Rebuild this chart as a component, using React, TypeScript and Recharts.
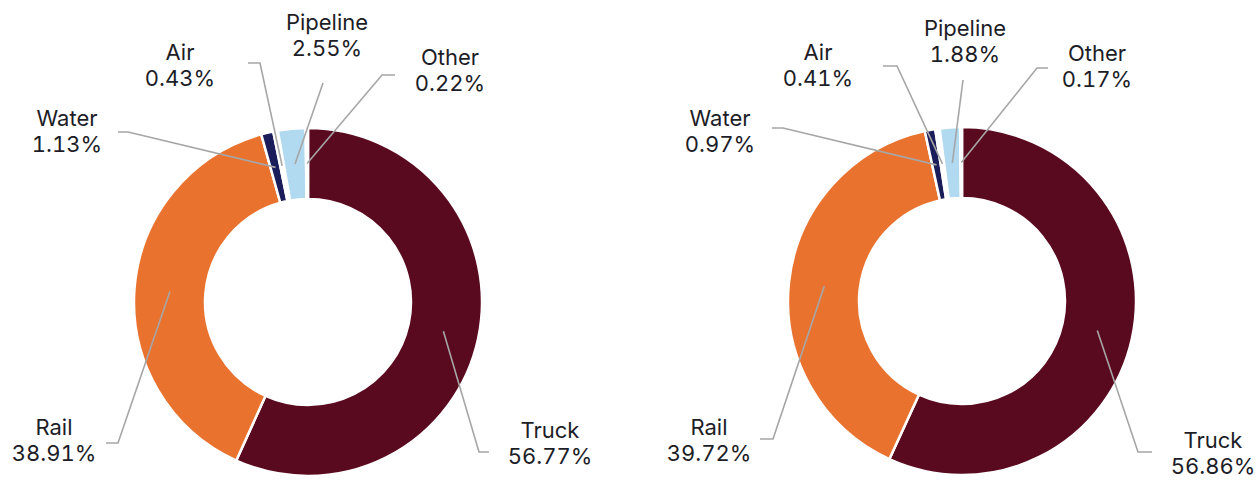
import { Pie, PieChart, Cell } from "recharts";

const categories = ["Truck", "Rail", "Water", "Air", "Pipeline", "Other"];
const leftShares = [56.77, 38.91, 1.13, 0.43, 2.55, 0.22];
const rightShares = [56.86, 39.72, 0.97, 0.41, 1.88, 0.17];

const colors: Record<string, string> = {
  Truck: "#5a0a1f",
  Rail: "#e9722f",
  Water: "#1b1c5a",
  Air: "#ffffff",
  Pipeline: "#b1daf1",
  Other: "#ffffff",
};

const leftData = categories.map((name, i) => ({ name, value: leftShares[i] }));
const rightData = categories.map((name, i) => ({ name, value: rightShares[i] }));

type Spot = { ex: number; ey: number; hx: number; tx: number; ty: number };

// leader line elbow / end and label position, relative to each donut's centre
const leftLayout: Record<string, Spot> = {
  Truck: { ex: 171, ey: 150, hx: 181, tx: 242, ty: 128 },
  Rail: { ex: -190, ey: 141, hx: -202, tx: -254, ty: 125 },
  Water: { ex: -180, ey: -170, hx: -190, tx: -241, ty: -184 },
  Air: { ex: -48, ey: -239, hx: -60, tx: -128, ty: -250 },
  Pipeline: { ex: 15, ey: -219, hx: 15, tx: 19, ty: -280 },
  Other: { ex: 74, ey: -227, hx: 87, tx: 142, ty: -245 },
};

const rightLayout: Record<string, Spot> = {
  Truck: { ex: 176, ey: 151, hx: 190, tx: 251, ty: 139 },
  Rail: { ex: -189, ey: 138, hx: -202, tx: -253, ty: 126 },
  Water: { ex: -179, ey: -173, hx: -190, tx: -242, ty: -183 },
  Air: { ex: -65, ey: -235, hx: -79, tx: -144, ty: -249 },
  Pipeline: { ex: 1, ey: -221, hx: 1, tx: 3, ty: -273 },
  Other: { ex: 75, ey: -233, hx: 86, tx: 135, ty: -248 },
};

const RAD = Math.PI / 180;
const textStyle = {
  fontFamily: "Inter, 'Noto Sans', sans-serif",
  fontSize: 22,
  fill: "#1d1d27",
  style: { fontVariantNumeric: "tabular-nums" },
};

function makeLabel(layout: Record<string, Spot>) {
  return (props: any) => {
    const { cx, cy, midAngle, innerRadius, outerRadius, name, value } = props;
    const spot = layout[name];
    if (!spot) return null;
    const r = (innerRadius + outerRadius) / 2;
    const sx = cx + r * Math.cos(-midAngle * RAD);
    const sy = cy + r * Math.sin(-midAngle * RAD);
    const pts = `${sx},${sy} ${cx + spot.ex},${cy + spot.ey} ${cx + spot.hx},${cy + spot.ey}`;
    return (
      <g>
        <polyline points={pts} fill="none" stroke="#a6a6a6" strokeWidth={1.6} />
        <text x={cx + spot.tx} y={cy + spot.ty} textAnchor="middle" dominantBaseline="central" {...textStyle}>
          {name}
        </text>
        <text x={cx + spot.tx} y={cy + spot.ty + 26} textAnchor="middle" dominantBaseline="central" {...textStyle}>
          {value.toFixed(2)}%
        </text>
      </g>
    );
  };
}

export default function App() {
  return (
    <div style={{ position: "absolute", left: 0, top: 0, width: 1257, height: 481, background: "#fff" }}>
      <PieChart width={1257} height={481} margin={{ top: 0, right: 0, bottom: 0, left: 0 }}>
        <Pie
          data={leftData}
          dataKey="value"
          nameKey="name"
          cx={308}
          cy={302}
          innerRadius={103}
          outerRadius={174}
          startAngle={90}
          endAngle={-270}
          stroke="#fff"
          strokeWidth={2.5}
          label={makeLabel(leftLayout)}
          labelLine={false}
          isAnimationActive={false}
        >
          {leftData.map((d) => (
            <Cell key={d.name} fill={colors[d.name]} />
          ))}
        </Pie>
        <Pie
          data={rightData}
          dataKey="value"
          nameKey="name"
          cx={962}
          cy={301}
          innerRadius={103}
          outerRadius={174}
          startAngle={90}
          endAngle={-270}
          stroke="#fff"
          strokeWidth={2.5}
          label={makeLabel(rightLayout)}
          labelLine={false}
          isAnimationActive={false}
        >
          {rightData.map((d) => (
            <Cell key={d.name} fill={colors[d.name]} />
          ))}
        </Pie>
      </PieChart>
    </div>
  );
}
